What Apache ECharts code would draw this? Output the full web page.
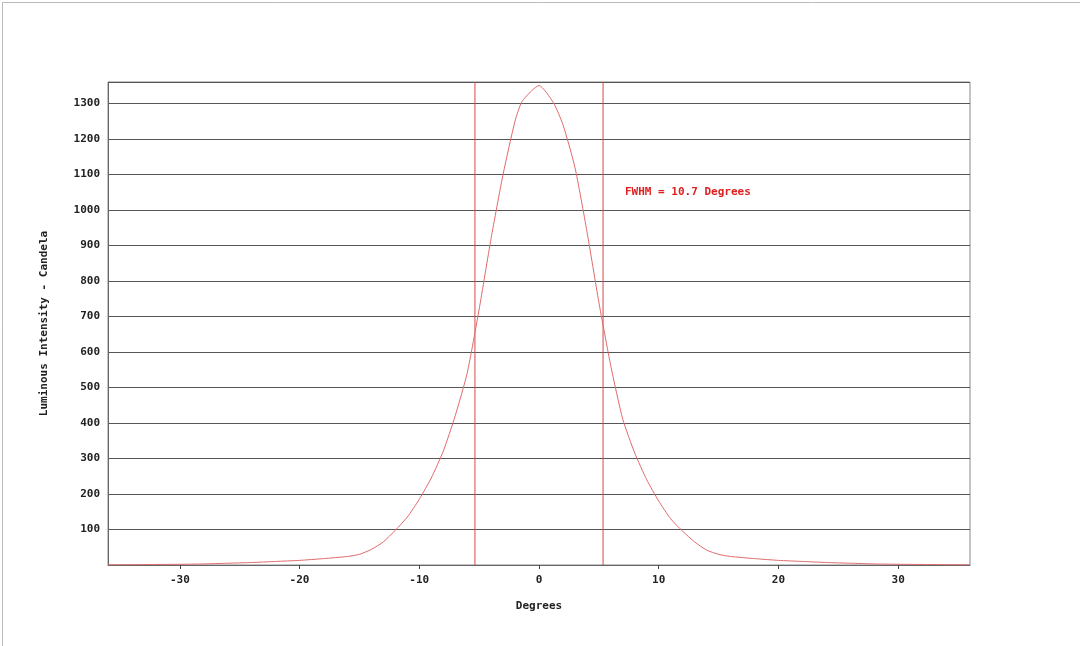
<!DOCTYPE html>
<html><head><meta charset="utf-8">
<script src="https://cdn.jsdelivr.net/npm/echarts@6/dist/echarts.min.js"></script>
<style>html,body{margin:0;padding:0;background:#fff}#c{width:1080px;height:646px}</style>
</head><body><div id="c"></div>
<script>
const degrees = [-36,-34,-32,-30,-28,-26,-24,-22,-20,-18,-16,-15,-14,-13,-12,-11,-10,-9,-8,-7,-6,-5,-4,-3,-2,-1.4,0,1.2,2,3,4,5,6,7,8,9,10,11,12,13,14,15,16,18,20,22,24,26,28,30,32,34,36];
const intensity = [0.5,1,1.5,2,3,5,7,10,13,18,24,30,44,65,98,135,185,245,320,420,540,720,920,1100,1250,1306,1350,1302,1240,1120,940,740,560,410,315,240,180,130,95,65,42,30,24,18,13,10,7,5,3,2,1.5,1,0.5];
const fwhmLines = [-5.35, 5.35];
const yMax = 1360;
const fwhmText = 'FWHM = 10.7 Degrees';
const xTitle = 'Degrees';
const yTitle = 'Luminous Intensity - Candela';

const font = 'DejaVu Sans Mono';
const chart = echarts.init(document.getElementById('c'));
const vlines = fwhmLines.map(v=>({type:'line',data:[[v,0],[v,yMax]],symbol:'none',silent:true,
  lineStyle:{color:'#d84a4a',width:1},z:1}));
chart.setOption({
  animation:false,
  grid:{left:108,right:110,top:82,bottom:81,show:true,borderColor:'#888',borderWidth:1},
  xAxis:{type:'value',min:-36,max:36,name:xTitle,nameLocation:'middle',nameGap:36,
    nameTextStyle:{fontFamily:font,fontWeight:'bold',fontSize:11,color:'#222'},
    axisLine:{lineStyle:{color:'#666'}},axisTick:{show:true,length:4,lineStyle:{color:'#444'}},
    splitLine:{show:false},
    axisLabel:{showMinLabel:false,showMaxLabel:false,fontFamily:font,fontWeight:'bold',fontSize:11,color:'#222',margin:10}},
  yAxis:{type:'value',min:0,max:yMax,interval:100,name:yTitle,nameLocation:'middle',nameGap:58,
    nameTextStyle:{fontFamily:font,fontWeight:'bold',fontSize:11,color:'#222'},
    axisLine:{show:true,onZero:false,lineStyle:{color:'#666'}},axisTick:{show:false},
    splitLine:{show:true,lineStyle:{color:'#555',width:1}},
    axisLabel:{fontFamily:font,fontWeight:'bold',fontSize:11,color:'#222',
      formatter:v=>(v===0||v%100!==0)?'':String(v)}},
  series:[{type:'line',data:degrees.map((d,i)=>[d,intensity[i]]),smooth:0.2,symbol:'none',
    lineStyle:{color:'#e06a6a',width:1},z:3}].concat(vlines),
  graphic:[
    {type:'rect',left:0,top:0,shape:{width:1079,height:645},style:{fill:'none',stroke:'#bbb',lineWidth:1},silent:true},
    {type:'text',left:625,top:187,style:{text:fwhmText,fill:'#e02020',font:'bold 11px "DejaVu Sans Mono"'}}
  ]
});
</script></body></html>
